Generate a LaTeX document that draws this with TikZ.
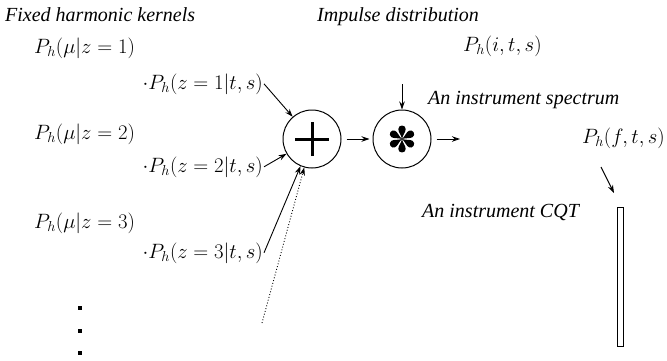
\documentclass[tikz,border=0pt]{standalone}
\usepackage{fontspec}
\newfontfamily\timesfont{Liberation Serif}[ItalicFont={Liberation Serif Italic}]
\usetikzlibrary{arrows.meta}
\tikzset{
  arr/.style={-{Stealth[length=8pt,width=5.5pt]}, line width=0.9pt},
  lab/.style={font=\fontsize{20}{24}\selectfont\timesfont\itshape, inner sep=0pt},
  mth/.style={font=\fontsize{20}{24}\selectfont, inner sep=1pt},
  opcirc/.style={circle, draw, line width=1pt, minimum size=58pt, inner sep=0pt},
  dotsq/.style={fill, minimum size=4pt, inner sep=0pt},
}
\begin{document}
\begin{tikzpicture}[x=1pt,y=-1pt]
\useasboundingbox (0,0) rectangle (667,360);
% labels
\node[lab, anchor=base west] (lfix) at (5,21) {Fixed harmonic kernels};
\node[lab, anchor=base west] (limp) at (317,21) {Impulse distribution};
\node[lab, anchor=base west] (lspec) at (428,104) {An instrument spectrum};
\node[lab, anchor=base west] (lcqt) at (422,217) {An instrument CQT};
% math
\node[mth, anchor=base west] (m1) at (33,53) {$P_h(\mu|z=1)$};
\node[mth, anchor=base west] (m2) at (33,139) {$P_h(\mu|z=2)$};
\node[mth, anchor=base west] (m3) at (33,228) {$P_h(\mu|z=3)$};
\node[mth, anchor=base east] (k1) at (264,89) {$\cdot P_h(z=1|t,s)$};
\node[mth, anchor=base east] (k2) at (264,172) {$\cdot P_h(z=2|t,s)$};
\node[mth, anchor=base east] (k3) at (264,258) {$\cdot P_h(z=3|t,s)$};
\node[mth, anchor=base west] (pi) at (462,51) {$P_h(i,t,s)$};
\node[mth, anchor=base east] (pf) at (666,143) {$P_h(f,t,s)$};
% dots
\node[dotsq] (d1) at (80,308) {};
\node[dotsq] (d2) at (80,331) {};
\node[dotsq] (d3) at (80,353) {};
% operators
\node[opcirc] (plus) at (312,139) {};
\node[opcirc] (star) at (402,139) {};
\draw[line width=3pt] ([xshift=-17pt]plus.center) -- ([xshift=17pt]plus.center);
\draw[line width=3pt] ([yshift=-17pt]plus.center) -- ([yshift=17pt]plus.center);
\begin{scope}[shift={(star.center)}]
  \foreach \a in {0,60,...,300}
    \fill[rotate=\a] (0,0) .. controls (-0.8,-4) and (-3.7,-7) .. (-3.7,-10)
      .. controls (-3.7,-14.6) and (3.7,-14.6) .. (3.7,-10)
      .. controls (3.7,-7) and (0.8,-4) .. (0,0);
\end{scope}
% CQT bar
\node[draw, line width=0.8pt, minimum width=6pt, minimum height=139pt, inner sep=0pt] (cqt) at (620,276.5) {};
% connector coordinates
\coordinate (dotstart) at (262,323);
\coordinate (inarr) at (402,84);
\coordinate (outarr) at (460,139);
\coordinate (fa) at (601,167);
\coordinate (fb) at (614,193);
% connectors
\draw[arr] (k1.east) -- (plus);
\draw[arr] (k2.east) -- (plus);
\draw[arr] (k3.east) -- (plus);
\draw[arr, dotted] (dotstart) -- (plus);
\draw[arr] ([xshift=5pt]plus.east) -- ([xshift=-3pt]star.west);
\draw[arr] (inarr) -- (star);
\draw[arr] ([xshift=5pt]star.east) -- (outarr);
\draw[arr] (fa) -- (fb);
\end{tikzpicture}
\end{document}
